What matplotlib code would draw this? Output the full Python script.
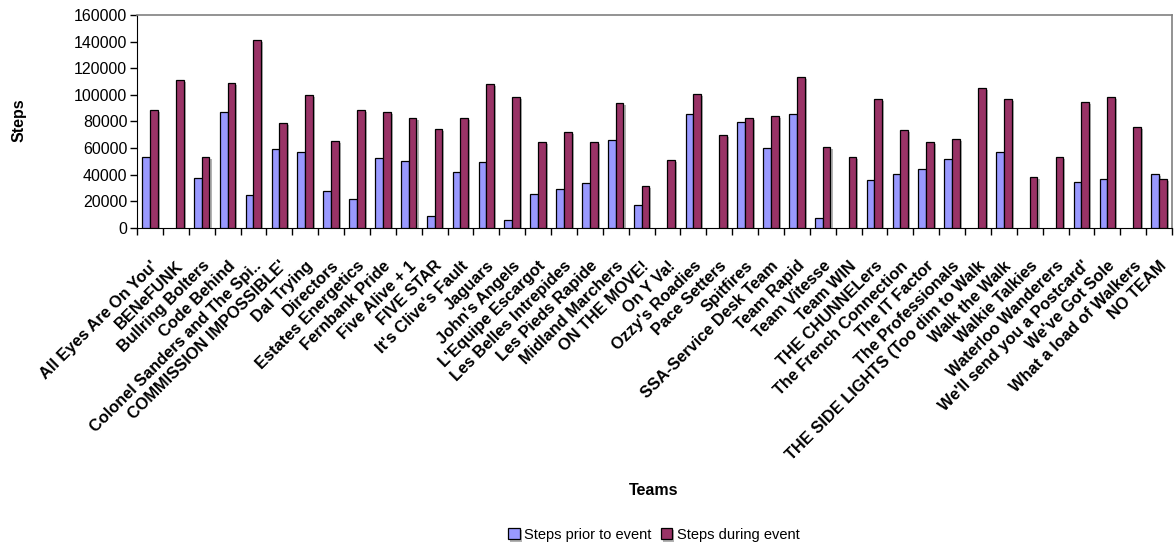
import matplotlib
matplotlib.use("Agg")
import matplotlib.pyplot as plt
import matplotlib.patheffects as pe
import numpy as np

plt.rcParams['font.family'] = ['Liberation Sans', 'DejaVu Sans']

teams = [
    "All Eyes Are On You'", "BENeFUNK", "Bullring Bolters", "Code Behind",
    "Colonel Sanders and The Spi..", "COMMISSION IMPOSSIBLE'", "Dal Trying", "Directors",
    "Estates Energetics", "Fernbank Pride", "Five Alive + 1", "FIVE STAR",
    "It's Clive's Fault", "Jaguars", "John's Angels", "L'Equipe Escargot",
    "Les Belles Intrepides", "Les Pieds Rapide", "Midland Marchers", "ON THE MOVE!",
    "On Y Va!", "Ozzy's Roadies", "Pace Setters", "Spitfires",
    "SSA-Service Desk Team", "Team Rapid", "Team Vitesse", "Team WIN",
    "THE CHUNNELers", "The French Connection", "The IT Factor", "The Professionals",
    "THE SIDE LIGHTS (Too dim to Walk", "Walk the Walk", "Walkie Talkies", "Waterloo Wanderers",
    "We'll send you a Postcard'", "We've Got Sole", "What a load of Walkers", "NO TEAM",
]

steps_prior = [
    53400, 0, 37600, 87300, 24800, 59400, 57200, 27300, 21600, 52700,
    50200, 8800, 41900, 49400, 5500, 25100, 29100, 33400, 66200, 17100,
    0, 85300, 0, 79200, 59700, 85800, 7000, 0, 36100, 40100,
    44400, 51900, 0, 57200, 0, 0, 34100, 36900, 0, 40100,
]

steps_during = [
    88500, 111100, 53400, 108600, 140900, 79000, 99600, 65500, 88500, 86800,
    82500, 74000, 82500, 107800, 98600, 64700, 72200, 64700, 93500, 31600,
    51200, 100300, 69700, 82500, 84300, 113100, 60700, 52900, 96800, 73200,
    64700, 66500, 104800, 96800, 38400, 52900, 94500, 98600, 75700, 36900,
]

y_ticks = [0, 20000, 40000, 60000, 80000, 100000, 120000, 140000, 160000]

fig = plt.figure(figsize=(11.76, 5.47), dpi=100)
ax = fig.add_axes([0.1165, 0.5837, 0.8801, 0.3889])

x = np.arange(len(teams))
w = 0.3
shadow = [pe.SimplePatchShadow(offset=(1.5, -1.5), shadow_rgbFace='#808080', alpha=0.6), pe.Normal()]
b1 = ax.bar(x - w / 2, steps_prior, width=w, color='#9999FF', edgecolor='black',
            linewidth=0.9, label='Steps prior to event', zorder=3)
b2 = ax.bar(x + w / 2, steps_during, width=w, color='#993366', edgecolor='black',
            linewidth=0.9, label='Steps during event', zorder=3)
for bars in (b1, b2):
    for r in bars:
        if r.get_height() > 0:
            r.set_path_effects(shadow)
        else:
            r.set_visible(False)

ax.set_xlim(-0.5, len(teams) - 0.5)
ax.set_ylim(0, 160000)
ax.set_yticks(y_ticks)
ax.set_yticklabels([str(v) for v in y_ticks], fontsize=11.5)
ax.tick_params(axis='y', direction='out', length=5, width=1, pad=2)

# category boundaries carry the tick marks, centres carry the names
ax.set_xticks(np.arange(len(teams) + 1) - 0.5)
ax.set_xticklabels([])
ax.tick_params(axis='x', which='major', direction='out', length=5, width=1)
ax.set_xticks(x, minor=True)
ax.set_xticklabels(teams, minor=True, rotation=45, ha='right', va='top',
                   rotation_mode='anchor', fontsize=11.8, fontweight='bold')
ax.tick_params(axis='x', which='minor', length=0, pad=22)

for s in ('left', 'bottom'):
    ax.spines[s].set_color('black')
for s in ('top', 'right'):
    ax.spines[s].set_color('#808080')
    ax.spines[s].set_linewidth(1.2)

fig.text(0.016, 0.78, 'Steps', rotation=90, fontsize=11.5, fontweight='bold',
         ha='center', va='center')
fig.text(0.556, 0.104, 'Teams', fontsize=11.5, fontweight='bold', ha='center', va='center')

fig.legend(handles=[b1, b2], loc='center', bbox_to_anchor=(0.556, 0.022), ncol=2,
           frameon=False, fontsize=10.5, handlelength=0.8, handleheight=0.8,
           handletextpad=0.3, columnspacing=0.6)

fig.savefig('out.png', dpi=100)
